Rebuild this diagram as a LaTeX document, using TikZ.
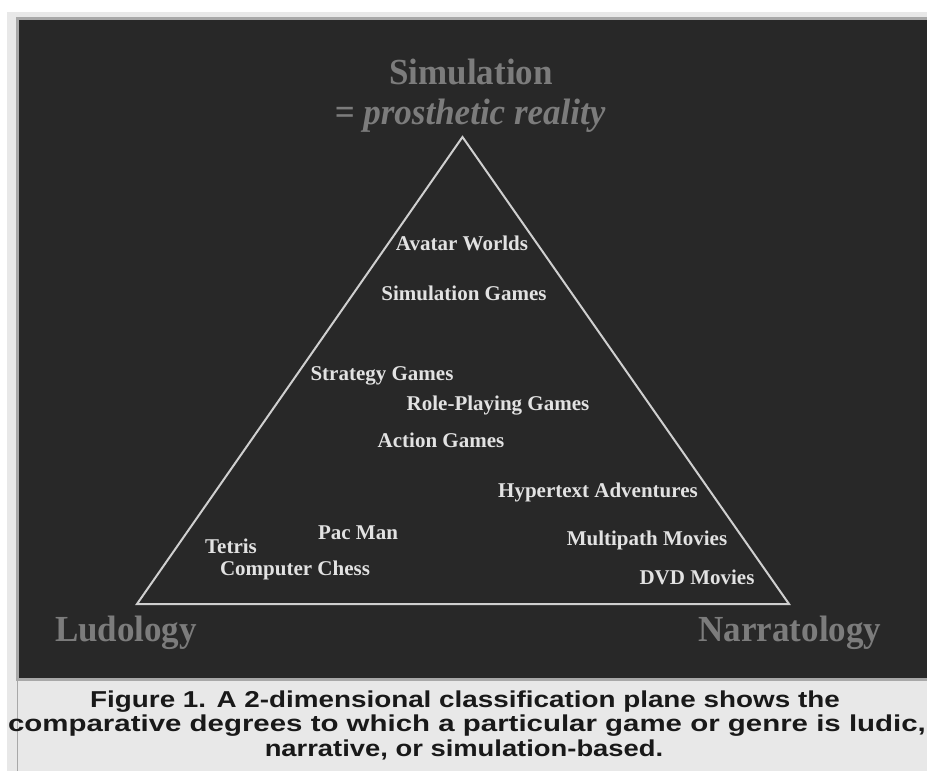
\documentclass[tikz,border=0pt]{standalone}
\usepackage{fontspec}
\setmainfont{Liberation Serif}
\newfontfamily\capfont{Liberation Sans}
\definecolor{panel}{HTML}{282828}
\definecolor{frame}{HTML}{E8E8E8}
\definecolor{rim}{HTML}{A8A8A8}
\definecolor{pole}{HTML}{7C7C7C}
\definecolor{genre}{HTML}{E2E2E2}
\definecolor{edge}{HTML}{CFCFCF}
\tikzset{
  polelabel/.style={text=pole, font=\fontsize{35}{38}\selectfont\bfseries, inner sep=0pt, yscale=1.05},
  genrelabel/.style={text=genre, font=\fontsize{21}{23}\selectfont\bfseries, inner sep=0pt},
  caption/.style={text=black!90, font=\capfont\bfseries\fontsize{23}{25.5}\selectfont, inner sep=0pt, anchor=base},
  side/.style={draw=edge, line width=2pt, line join=miter}
}
\begin{document}
\begin{tikzpicture}[x=1pt, y=-1pt]
  \useasboundingbox (0,0) rectangle (927,771);
  % page and frame
  \fill[white] (0,0) rectangle (927,771);
  \fill[frame] (7,12) rectangle (927,771);
  \fill[rim] (16,17) rectangle (927,681);
  \fill[panel] (19,20) rectangle (927,678);
  \draw[rim, line width=1.2pt] (17.5,681) -- (17.5,771);

  % pole labels
  \node[polelabel] (sim) at (471,72) {Simulation};
  \node[polelabel, font=\fontsize{35}{38}\selectfont\bfseries\itshape] (pr) at (470,116) {= prosthetic reality};
  \node[polelabel] (ludo) at (126,633) {Ludology};
  \node[polelabel] (narr) at (790,633) {Narratology};

  % triangle
  \coordinate (top) at (462.5,137);
  \coordinate (bl) at (137,604);
  \coordinate (br) at (789,604);
  \draw[side] (top) -- (bl) -- (br) -- cycle;

  % genres
  \node[genrelabel] (avatar) at (462,243) {Avatar Worlds};
  \node[genrelabel] (simg) at (464,293) {Simulation Games};
  \node[genrelabel] (strat) at (382,376) {Strategy Games};
  \node[genrelabel] (rpg) at (498,406) {Role-Playing Games};
  \node[genrelabel] (action) at (441,440) {Action Games};
  \node[genrelabel] (hyper) at (598,492) {Hypertext Adventures};
  \node[genrelabel] (pac) at (358,533) {Pac Man};
  \node[genrelabel] (tetris) at (231,546) {Tetris};
  \node[genrelabel] (multi) at (647,540) {Multipath Movies};
  \node[genrelabel] (chess) at (295,570) {Computer Chess};
  \node[genrelabel] (dvd) at (697,577) {DVD Movies};

  % caption, one node per line
  \node[caption, xscale=1.21] (cap1) at (465,707) {Figure 1. A 2-dimensional classification plane shows the};
  \node[caption, xscale=1.28] (cap2) at (467,731) {comparative degrees to which a particular game or genre is ludic,};
  \node[caption, xscale=1.19] (cap3) at (464,756) {narrative, or simulation-based.};
\end{tikzpicture}
\end{document}
